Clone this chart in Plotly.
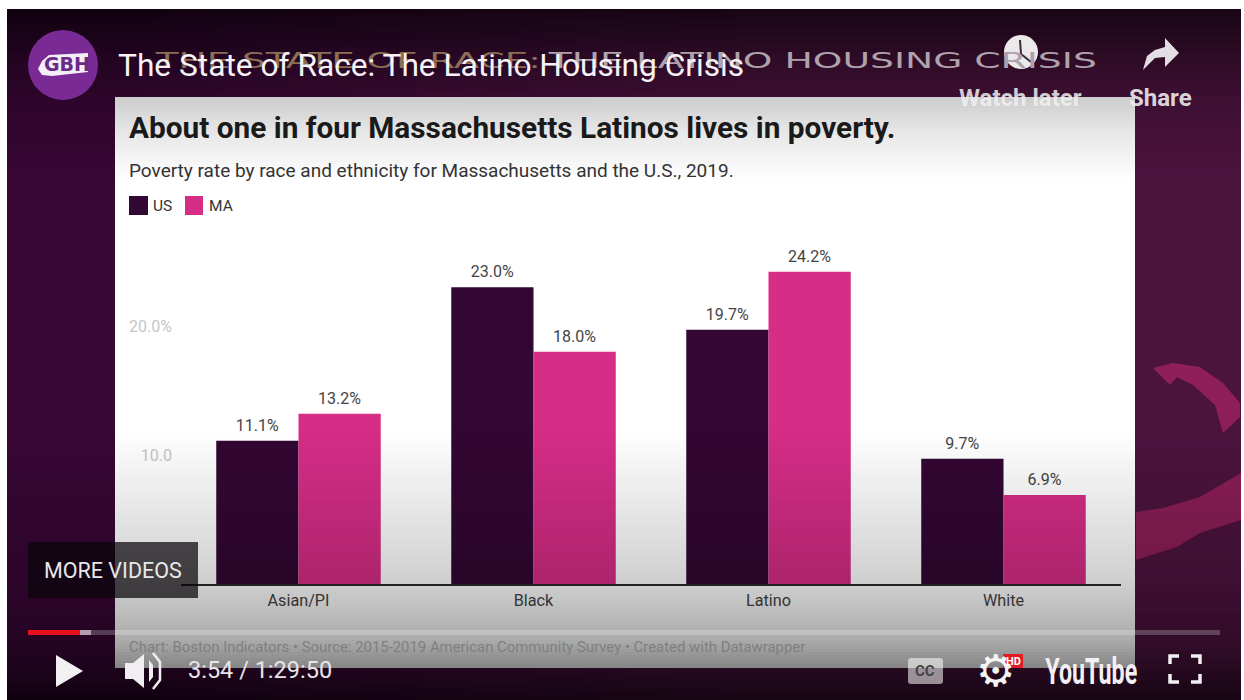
import plotly.graph_objects as go

categories = ["Asian/PI", "Black", "Latino", "White"]
us_values = [11.1, 23.0, 19.7, 9.7]
ma_values = [13.2, 18.0, 24.2, 6.9]
y_ticks = [10, 20]
y_tick_labels = ["10.0", "20.0%"]

FONT = "Roboto"
WIDTH, HEIGHT = 1244, 700
L, R, T, B = 181, 123, 240, 116
PW, PH = WIDTH - L - R, HEIGHT - T - B


def px(x):
    return (x - L) / PW


def py(y):
    return 1 - (y - T) / PH


def rect(x0, y0, x1, y1, fill, layer="below", line=None):
    return dict(type="rect", xref="paper", yref="paper", x0=px(x0), x1=px(x1), y0=py(y1), y1=py(y0),
                fillcolor=fill, line=dict(width=0) if line is None else line, layer=layer)


def poly(points, fill, layer="above", close=True, line=None):
    d = "M " + " L ".join(f"{px(a):.5f},{py(b):.5f}" for a, b in points) + (" Z" if close else "")
    return dict(type="path", xref="paper", yref="paper", path=d, fillcolor=fill if close else "rgba(0,0,0,0)",
                line=dict(width=0) if line is None else line, layer=layer)


def circle(cx, cy, r, fill, layer="above"):
    return dict(type="circle", xref="paper", yref="paper", x0=px(cx - r), x1=px(cx + r), y0=py(cy + r), y1=py(cy - r),
                fillcolor=fill, line=dict(width=0), layer=layer)


def text(s, x, y, size, color, anchor="left", font=FONT, bold=False):
    return dict(text=f"<b>{s}</b>" if bold else s, xref="paper", yref="paper",
                x=px(x - 2 if anchor == "left" else x), y=py(y), xanchor=anchor,
                yanchor="middle", showarrow=False, font=dict(family=font, size=size, color=color))


def lerp(stops, y):
    for (a, va), (b, vb) in zip(stops, stops[1:]):
        if a <= y <= b:
            return va + (vb - va) * (y - a) / (b - a)
    return 0


shapes = [
    rect(7, 9, 1241, 700, "#4c133f"),
    rect(7, 9, 115, 700, "#380736"),
]
# Background fades from the dark left edge to the lighter right side in the bands above and below the panel.
dark, light = (0x38, 0x07, 0x36), (0x4c, 0x13, 0x3f)
for x in range(115, 755, 16):
    f = (x - 115) / 640
    c = "rgb(" + ",".join(str(round(a + (b - a) * f)) for a, b in zip(dark, light)) + ")"
    shapes.append(rect(x, 9, x + 16, 97, c))
    shapes.append(rect(x, 668, x + 16, 700, c))

shapes += [
    poly([(1153, 368), (1173, 363), (1200, 367), (1223, 383), (1240, 403), (1240, 417), (1223, 433),
          (1215, 405), (1193, 385), (1177, 377), (1170, 385)], "#8f1f5a", layer="below"),
    poly([(1136, 512), (1163, 508), (1200, 497), (1241, 473), (1241, 520), (1200, 533), (1177, 547), (1136, 560)],
         "#8a1e56", layer="below"),
    rect(115, 97, 1135, 668, "#ffffff"),
    rect(129, 196, 148, 215, "#330733"),
    rect(185, 196, 203, 215, "#d62d87"),
]

top_stops = [(9, 0.68), (60, 0.38), (97, 0.2), (130, 0.1), (180, 0.0)]
bottom_stops = [(430, 0.0), (584, 0.19), (640, 0.33), (668, 0.48), (700, 0.7)]
for y in range(9, 180, 3):
    shapes.append(rect(7, y, 1241, y + 3, f"rgba(0,0,0,{lerp(top_stops, y + 1.5):.3f})", layer="above"))
for y in range(430, 700, 3):
    shapes.append(rect(7, y, 1241, min(y + 3, 700), f"rgba(0,0,0,{lerp(bottom_stops, y + 1.5):.3f})", layer="above"))

shapes += [
    rect(28, 542, 198, 598, "rgba(10,5,10,0.72)", layer="above"),
    rect(28, 630, 1220, 635, "rgba(255,255,255,0.22)", layer="above"),
    rect(80, 630, 91, 635, "rgba(220,200,220,0.7)", layer="above"),
    rect(28, 630, 80, 635, "#e8101c", layer="above"),
    circle(63, 65, 35, "#7a2a94"),
    poly([(49, 55), (88, 53), (88, 72), (52, 76), (42, 75), (38, 69), (42, 61)], "#f4eef6"),
    circle(1021, 52, 17, "rgba(245,245,245,0.95)"),
    poly([(1020, 40), (1021, 54), (1031, 62)], "", close=False, line=dict(color="#3a2a3a", width=2)),
    poly([(1165, 38), (1179, 53), (1165, 67), (1165, 57), (1155, 58), (1143, 70), (1147, 56), (1155, 50), (1165, 47)],
         "rgba(245,240,245,0.92)"),
    poly([(56, 655), (83, 671), (56, 687)], "#f2f0f2"),
    poly([(125, 663), (133, 663), (144, 654), (144, 688), (133, 679), (125, 679)], "#f0eef0"),
    poly([(149, 660), (153, 665), (153, 677), (149, 682)], "#f0eef0"),
    poly([(153, 653), (160, 662), (160, 680), (153, 689)], "", close=False, line=dict(color="#f0eef0", width=2.5)),
    dict(type="path", xref="paper", yref="paper", layer="above", fillcolor="rgba(255,255,255,0.55)", line=dict(width=0),
         path=f"M {px(911):.5f},{py(658):.5f} L {px(940):.5f},{py(658):.5f} Q {px(943):.5f},{py(658):.5f} {px(943):.5f},{py(661):.5f} "
              f"L {px(943):.5f},{py(681):.5f} Q {px(943):.5f},{py(684):.5f} {px(940):.5f},{py(684):.5f} "
              f"L {px(911):.5f},{py(684):.5f} Q {px(908):.5f},{py(684):.5f} {px(908):.5f},{py(681):.5f} "
              f"L {px(908):.5f},{py(661):.5f} Q {px(908):.5f},{py(658):.5f} {px(911):.5f},{py(658):.5f} Z"),
    rect(1003, 654, 1023, 668, "#e01b24", layer="above"),
]
for pts in ([(1170, 664), (1170, 656), (1179, 656)], [(1191, 656), (1200, 656), (1200, 664)],
            [(1170, 674), (1170, 682), (1179, 682)], [(1191, 682), (1200, 682), (1200, 674)]):
    shapes.append(poly(pts, "", close=False, line=dict(color="#f2f0f2", width=3.5)))

annotations = [
    text("THE STATE OF RACE:", 348, 61, 21, "#8c6d55", anchor="center", font="DejaVu Sans"),
    text("THE LATINO HOUSING CRISIS", 822, 61, 21, "#b0a2ac", anchor="center", font="DejaVu Sans"),
    text("GBH", 67, 64, 19, "#6a2a88", anchor="center", font="DejaVu Sans", bold=True),
    text("The State of Race: The Latino Housing Crisis", 118, 65, 31.7, "#f6f2f6"),
    text("Watch later", 1020, 98, 24, "rgba(240,240,240,0.85)", anchor="center", bold=True),
    text("Share", 1160, 98, 24, "rgba(240,240,240,0.9)", anchor="center", bold=True),
    text("About one in four Massachusetts Latinos lives in poverty.", 129, 128, 29.8, "#1a1a1a", bold=True),
    text("Poverty rate by race and ethnicity for Massachusetts and the U.S., 2019.", 129, 170, 19, "#333333"),
    text("US", 153, 206, 15.5, "#333333"),
    text("MA", 209, 206, 15.5, "#333333"),
    text("MORE VIDEOS", 113, 570, 21.5, "#e8e8e8", anchor="center"),
    text("Chart: Boston Indicators • Source: 2015-2019 American Community Survey • Created with Datawrapper",
         129, 647, 14.9, "#7f7f7f"),
    text("3:54 / 1:29:50", 188, 670, 23.5, "#e8e4e8"),
    text("CC", 925, 671, 15, "#444444", anchor="center", bold=True),
    text("⚙", 995, 670, 44, "#f4f4f4", anchor="center", font="DejaVu Sans"),
    text("HD", 1013, 661, 11, "#ffffff", anchor="center", bold=True),
    text("YouTube", 1091, 672, 36, "#f2f0f2", anchor="center", font="Roboto", bold=True),
]

fig = go.Figure()
for name, values, color in (("US", us_values, "#330733"), ("MA", ma_values, "#d62d87")):
    fig.add_bar(
        x=categories, y=values, name=name, marker=dict(color=color, line=dict(width=0)),
        text=[f"{v:.1f}%" for v in values], textposition="outside", textangle=0, cliponaxis=False,
        textfont=dict(family=FONT, size=16, color="#444444"), showlegend=False,
    )

fig.update_layout(
    width=WIDTH, height=HEIGHT, autosize=False, margin=dict(l=L, r=R, t=T, b=B, pad=0),
    paper_bgcolor="#ffffff", plot_bgcolor="rgba(0,0,0,0)", barmode="group", bargap=0.3, bargroupgap=0,
    shapes=shapes, annotations=annotations, font=dict(family=FONT),
    xaxis=dict(showgrid=False, showline=True, linecolor="#2a2a2a", linewidth=1.5, ticks="", ticklen=0,
               ticklabelstandoff=1, tickfont=dict(family=FONT, size=16.2, color="#444444"), automargin=False),
    yaxis=dict(range=[0, (HEIGHT - T - B) / 12.9], tickvals=y_ticks, ticktext=y_tick_labels, showgrid=False,
               zeroline=False, showline=False, ticks="", ticklabelstandoff=8,
               tickfont=dict(family=FONT, size=16, color="#c6c6c6"), automargin=False),
)

post = """
document.body.style.margin = '0';
document.querySelectorAll('.annotation-text').forEach(function (el) {
  var t = el.textContent;
  var len = null;
  if (t.indexOf('THE STATE OF RACE') === 0) { len = '385'; }
  if (t.indexOf('THE LATINO') === 0) { len = '548'; }
  if (t === 'YouTube') { len = '92'; }
  if (len) { el.setAttribute('textLength', len); el.setAttribute('lengthAdjust', 'spacingAndGlyphs'); }
});
document.querySelectorAll('.bartext').forEach(function (el) {
  el.setAttribute('transform', 'translate(0,-3) ' + (el.getAttribute('transform') || ''));
});
"""
fig.write_html("out.html", post_script=post, config=dict(displayModeBar=False))
